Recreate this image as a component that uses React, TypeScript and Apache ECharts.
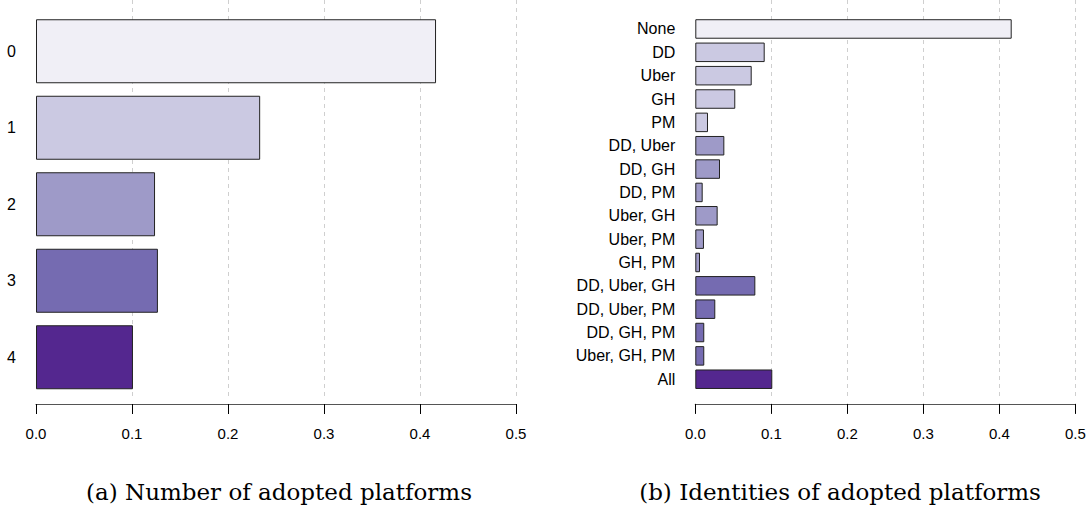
import React, { useEffect, useRef } from 'react';
import * as echarts from 'echarts';

// panel (a): share of workers by number of adopted platforms
const countLabels = ['0', '1', '2', '3', '4'];
const countShares = [0.4167, 0.2335, 0.124, 0.127, 0.101];

// panel (b): share of workers by identity of adopted platforms
const comboLabels = [
  'None', 'DD', 'Uber', 'GH', 'PM',
  'DD, Uber', 'DD, GH', 'DD, PM', 'Uber, GH', 'Uber, PM', 'GH, PM',
  'DD, Uber, GH', 'DD, Uber, PM', 'DD, GH, PM', 'Uber, GH, PM', 'All',
];
const comboShares = [
  0.4163, 0.0913, 0.0742, 0.0526, 0.0167,
  0.0382, 0.0325, 0.0097, 0.0294, 0.0114, 0.0062,
  0.079, 0.0263, 0.0118, 0.0118, 0.1013,
];

const xTicks = [0, 0.1, 0.2, 0.3, 0.4, 0.5];
const captions = ['(a) Number of adopted platforms', '(b) Identities of adopted platforms'];

// Purples, one shade per number of platforms
const purples = ['#f0eff6', '#cbc9e2', '#9e9ac8', '#756bb1', '#54278f'];

const sizeOf = (label: string) => {
  if (label === 'None') return 0;
  if (label === 'All') return 4;
  return label.split(',').length;
};

const SANS = 'Liberation Sans, Arial, sans-serif';

const App: React.FC = () => {
  const chartRef = useRef<HTMLDivElement | null>(null);

  useEffect(() => {
    document.body.style.margin = '0';
    if (!chartRef.current) return;
    const chart = echarts.init(chartRef.current, undefined, { renderer: 'svg' });

    const gridLineAxis = (gridIndex: number) => ({
      type: 'value' as const,
      gridIndex,
      min: xTicks[0],
      max: xTicks[xTicks.length - 1],
      interval: 0.1,
      axisLine: { show: false },
      axisTick: { show: false },
      axisLabel: { show: false },
      splitLine: {
        show: true,
        showMinLine: false,
        lineStyle: { color: '#cfcfcf', type: [4, 4] as any, width: 1 },
      },
    });

    const valueAxis = (gridIndex: number, offset: number) => ({
      type: 'value' as const,
      gridIndex,
      min: xTicks[0],
      max: xTicks[xTicks.length - 1],
      interval: 0.1,
      offset,
      axisLine: { show: true, lineStyle: { color: '#555', width: 1.2 } },
      axisTick: { show: true, length: 10, lineStyle: { color: '#000', width: 1 } },
      axisLabel: {
        margin: 22,
        fontFamily: SANS,
        fontSize: 15,
        color: '#000',
        formatter: (v: number) => v.toFixed(1),
      },
      splitLine: { show: false },
    });

    const catAxis = (gridIndex: number, data: string[]) => ({
      type: 'category' as const,
      gridIndex,
      data,
      inverse: true,
      axisLine: { show: false },
      axisTick: { show: false },
      axisLabel: { margin: 20, fontFamily: SANS, fontSize: 16, color: '#000' },
    });

    const caption = (text: string, x: number) => ({
      type: 'text',
      x,
      y: 492,
      style: {
        text,
        fontFamily: 'DejaVu Serif, serif',
        fontSize: 23,
        fill: '#000',
        textAlign: 'center',
        textVerticalAlign: 'middle',
      },
    });

    const option: echarts.EChartsOption = {
      animation: false,
      backgroundColor: '#fff',
      grid: [
        { left: 36, width: 480, top: 0, height: 397 },
        { left: 695.3, width: 380, top: 0, height: 397 },
        { left: 36, width: 480, top: 13, height: 382.5 },
        { left: 695.3, width: 380, top: 17.3, height: 373.6 },
      ],
      xAxis: [gridLineAxis(0), gridLineAxis(1), valueAxis(2, 8.5), valueAxis(3, 13)] as any,
      yAxis: [
        { type: 'value', gridIndex: 0, show: false },
        { type: 'value', gridIndex: 1, show: false },
        catAxis(2, countLabels),
        catAxis(3, comboLabels),
      ] as any,
      series: [
        {
          type: 'bar',
          xAxisIndex: 2,
          yAxisIndex: 2,
          barWidth: 64,
          data: countShares.map((v, i) => ({
            value: v,
            itemStyle: { color: purples[i], borderColor: '#222', borderWidth: 1 },
          })),
        },
        {
          type: 'bar',
          xAxisIndex: 3,
          yAxisIndex: 3,
          barWidth: 19.5,
          data: comboShares.map((v, i) => ({
            value: v,
            itemStyle: {
              color: purples[sizeOf(comboLabels[i])],
              borderColor: '#222',
              borderWidth: 1,
            },
          })),
        },
      ],
      graphic: [caption(captions[0], 279), caption(captions[1], 840)] as any,
    };

    chart.setOption(option);
    return () => {
      chart.dispose();
    };
  }, []);

  return <div ref={chartRef} style={{ width: 1090, height: 511 }}></div>;
};

export default App;
